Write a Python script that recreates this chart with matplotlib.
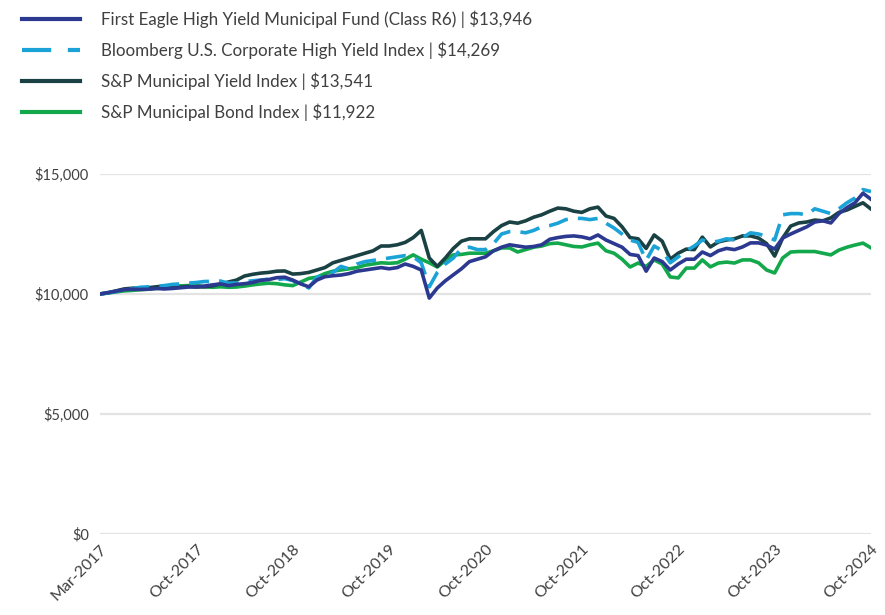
import numpy as np
import matplotlib.pyplot as plt
from matplotlib.lines import Line2D
from matplotlib.ticker import FuncFormatter

# Growth of $10,000 values (97 points, 12 per label interval)
fund = [10000, 10060, 10120, 10180, 10200, 10190, 10200, 10230, 10210, 10230, 10260, 10290,
        10300, 10330, 10380, 10420, 10350, 10400, 10430, 10480, 10570, 10600, 10680, 10700,
        10580, 10420, 10300, 10580, 10720, 10760, 10790, 10850, 10950, 11000, 11050, 11100,
        11050, 11100, 11250, 11150, 11000, 9830, 10250, 10550, 10800, 11050, 11350, 11450,
        11550, 11800, 11950, 12050, 12000, 11950, 11980, 12050, 12280, 12350, 12400, 12420,
        12380, 12300, 12460, 12250, 12100, 11950, 11650, 11600, 10950, 11500, 11350, 11000,
        11250, 11450, 11450, 11750, 11600, 11800, 11900, 11850, 11960, 12130, 12130, 12040,
        11870, 12330, 12500, 12650, 12800, 13000, 13050, 12960, 13350, 13600, 13800, 14200,
        13946]
bloomberg = [10000, 10050, 10100, 10150, 10220, 10280, 10300, 10320, 10350, 10400, 10420, 10450,
             10480, 10520, 10530, 10540, 10450, 10460, 10520, 10550, 10580, 10620, 10600, 10640,
             10560, 10400, 10250, 10700, 10800, 10900, 11150, 11050, 11250, 11350, 11400, 11450,
             11500, 11550, 11600, 11550, 11300, 10300, 10900, 11250, 11500, 11900, 11950, 11850,
             11850, 12100, 12500, 12600, 12600, 12550, 12650, 12800, 12850, 12950, 13100, 13150,
             13150, 13100, 13150, 12950, 12750, 12500, 12250, 12150, 11400, 12000, 11800, 11300,
             11550, 11800, 12000, 12250, 12150, 12200, 12300, 12250, 12350, 12550, 12500, 12400,
             12250, 13300, 13350, 13350, 13300, 13550, 13450, 13350, 13550, 13800, 14000, 14350,
             14269]
muni_yield = [10000, 10050, 10130, 10210, 10240, 10250, 10260, 10300, 10330, 10300, 10280, 10320,
              10290, 10300, 10340, 10420, 10500, 10580, 10750, 10820, 10870, 10900, 10950, 10960,
              10830, 10850, 10900, 11000, 11100, 11300, 11400, 11500, 11600, 11700, 11800, 12000,
              12000, 12050, 12150, 12350, 12650, 11500, 11150, 11500, 11900, 12200, 12300, 12300,
              12300, 12600, 12850, 13000, 12950, 13050, 13200, 13300, 13450, 13580, 13550, 13450,
              13400, 13550, 13620, 13250, 13150, 12800, 12350, 12300, 11900, 12460, 12200, 11450,
              11700, 11870, 11850, 12370, 11960, 12170, 12250, 12300, 12420, 12420, 12330, 12100,
              11580, 12330, 12830, 12960, 13000, 13080, 13050, 13170, 13400, 13500, 13650, 13800,
              13541]
muni_bond = [10000, 10040, 10090, 10130, 10150, 10180, 10200, 10230, 10260, 10300, 10340, 10350,
             10360, 10300, 10280, 10300, 10280, 10290, 10330, 10380, 10420, 10450, 10430, 10380,
             10350, 10500, 10650, 10700, 10850, 10950, 11000, 11050, 11100, 11200, 11250, 11300,
             11280, 11300, 11450, 11630, 11450, 11300, 11125, 11400, 11630, 11650, 11700, 11700,
             11700, 11800, 11920, 11920, 11750, 11850, 11950, 12000, 12100, 12120, 12050, 11980,
             11960, 12050, 12120, 11800, 11700, 11450, 11125, 11290, 11150, 11420, 11250, 10710,
             10670, 11080, 11080, 11420, 11130, 11290, 11330, 11290, 11420, 11420, 11300, 11000,
             10875, 11500, 11750, 11770, 11770, 11770, 11700, 11630, 11830, 11950, 12040, 12120,
             11922]

tick_labels = ['Mar-2017', 'Oct-2017', 'Oct-2018', 'Oct-2019', 'Oct-2020',
               'Oct-2021', 'Oct-2022', 'Oct-2023', 'Oct-2024']

labels = ['First Eagle High Yield Municipal Fund (Class R6) | $13,946',
          'Bloomberg U.S. Corporate High Yield Index | $14,269',
          'S&P Municipal Yield Index | $13,541',
          'S&P Municipal Bond Index | $11,922']

c_fund = '#2B3990'
c_bbg = '#1BA3D8'
c_yield = '#1A4143'
c_bond = '#12A84B'

plt.rcParams['font.family'] = ['Lato', 'DejaVu Sans']

fig = plt.figure(figsize=(8.85, 6.15), dpi=100)
ax = fig.add_axes([100 / 885, 1 - 534 / 615, 771 / 885, 360 / 615])

x = np.arange(len(fund))
lw = 2.6
ax.plot(x, muni_bond, color=c_bond, lw=lw, zorder=3)
ax.plot(x, muni_yield, color=c_yield, lw=lw, zorder=4)
ax.plot(x, bloomberg, color=c_bbg, lw=lw, dashes=(5.5, 2.8), zorder=5)
ax.plot(x, fund, color=c_fund, lw=lw, zorder=6)

ax.set_xlim(0, len(fund) - 1)
ax.set_ylim(0, 15000)
ax.set_yticks([0, 5000, 10000, 15000])
ax.yaxis.set_major_formatter(FuncFormatter(lambda v, p: '${:,.0f}'.format(v)))
ax.set_xticks(np.arange(0, len(fund), 12))
ax.set_xticklabels(tick_labels, rotation=45, ha='right', rotation_mode='anchor')

ax.grid(axis='y', color='#E3E3E3', lw=1.6, zorder=0)
for s in ax.spines.values():
    s.set_visible(False)
ax.tick_params(length=0, labelsize=11.5, colors='#404040')
ax.tick_params(axis='y', labelsize=10.5, pad=8)
ax.tick_params(axis='x', pad=6)

handles = [Line2D([], [], color=c_fund, lw=3),
           Line2D([], [], color=c_bbg, lw=3, dashes=(7, 4)),
           Line2D([], [], color=c_yield, lw=3),
           Line2D([], [], color=c_bond, lw=3)]
fig.legend(handles, labels, loc='upper left', bbox_to_anchor=(15 / 885, 1 - 3.5 / 615),
           frameon=False, fontsize=12.25, handlelength=3.4, handletextpad=1.25,
           labelspacing=0.8, borderaxespad=0, labelcolor='#404040')

fig.savefig('out.png', dpi=100)
